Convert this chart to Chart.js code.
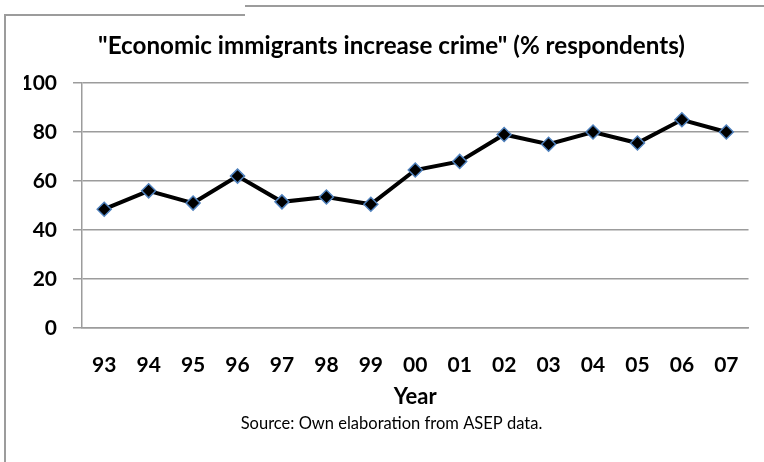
<!DOCTYPE html>
<html>
<head>
<meta charset="utf-8">
<script src="https://cdn.jsdelivr.net/npm/chart.js"></script>
<style>
  html, body { margin: 0; padding: 0; background: #fff; }
  #wrap { width: 764px; height: 462px; }
</style>
</head>
<body>
<div id="wrap"><canvas id="crimeChart"></canvas></div>
<script>
// survey years (two-digit labels) and share agreeing, %
const years = ['93', '94', '95', '96', '97', '98', '99', '00', '01', '02', '03', '04', '05', '06', '07'];
const agreePct = [48.5, 56, 51, 62, 51.5, 53.5, 50.5, 64.5, 68, 79, 75, 80, 75.5, 85, 80];
const yTicks = [0, 20, 40, 60, 80, 100];

const titleText = '"Economic immigrants increase crime" (% respondents)';
const xTitle = 'Year';
const sourceText = 'Source: Own elaboration from ASEP data.';

const FONT = 'Lato, "Open Sans", sans-serif';

// page frame around the figure (left and top edges only are in view)
const framePlugin = {
    id: 'frame',
    beforeDraw(chart) {
        const c = chart.ctx;
        c.save();
        c.fillStyle = '#fff';
        c.fillRect(0, 0, chart.width, chart.height);
        c.strokeStyle = '#9c9c9c';
        c.lineWidth = 2;
        c.beginPath();
        c.moveTo(5, chart.height);
        c.lineTo(5, 15);
        c.lineTo(245, 15);
        c.moveTo(245, 6);
        c.lineTo(chart.width, 6);
        c.stroke();
        c.restore();
    }
};

new Chart(document.getElementById('crimeChart'), {
    type: 'line',
    data: {
        labels: years,
        datasets: [{
            data: agreePct,
            borderColor: '#000',
            borderWidth: 4,
            tension: 0,
            pointStyle: 'rectRot',
            pointRadius: 7,
            pointHoverRadius: 7,
            pointBackgroundColor: '#000',
            pointBorderColor: '#4f81bd',
            pointBorderWidth: 1.5
        }]
    },
    options: {
        responsive: true,
        maintainAspectRatio: false,
        animation: false,
        layout: { padding: { left: 24, right: 5, top: 0, bottom: 0 } },
        plugins: {
            legend: { display: false },
            tooltip: { enabled: false },
            title: {
                display: true,
                text: titleText,
                color: '#000',
                font: { family: FONT, size: 24.2, weight: 'bold', lineHeight: 1.2 },
                padding: { top: 31.5, bottom: 22.5 }
            },
            subtitle: {
                display: true,
                position: 'bottom',
                text: sourceText,
                color: '#000',
                font: { family: FONT, size: 16.5, weight: 'normal', lineHeight: 1.2 },
                padding: { top: 5.1, bottom: 28.1 }
            }
        },
        scales: {
            x: {
                offset: true,
                afterFit(scale) { scale.height = 81; },
                grid: { display: false, drawTicks: false, offset: true },
                border: { display: true, color: '#9c9c9c', width: 1.5 },
                ticks: {
                    color: '#000',
                    padding: 25,
                    maxRotation: 0,
                    font: { family: FONT, size: 21, weight: 'bold', lineHeight: 1.2 }
                },
                title: {
                    display: true,
                    text: xTitle,
                    color: '#000',
                    padding: { top: 8, bottom: 0 },
                    font: { family: FONT, size: 22, weight: 'bold', lineHeight: 1.1 }
                }
            },
            y: {
                min: 0,
                max: 100,
                afterFit(scale) { scale.width = 58; },
                afterBuildTicks(scale) { scale.ticks = yTicks.map(v => ({ value: v })); },
                grid: { color: '#9c9c9c', lineWidth: 1.5, tickLength: 9, drawTicks: true },
                border: { display: true, color: '#9c9c9c', width: 1.5 },
                ticks: {
                    color: '#000',
                    padding: 16,
                    font: { family: FONT, size: 21, weight: 'bold', lineHeight: 1.2 }
                }
            },
            // empty strip that keeps the plot clear of the right edge
            spacer: {
                type: 'linear',
                position: 'right',
                afterFit(scale) { scale.width = 10; },
                grid: { display: false },
                border: { display: false },
                ticks: { display: false }
            }
        }
    },
    plugins: [framePlugin]
});
</script>
</body>
</html>
